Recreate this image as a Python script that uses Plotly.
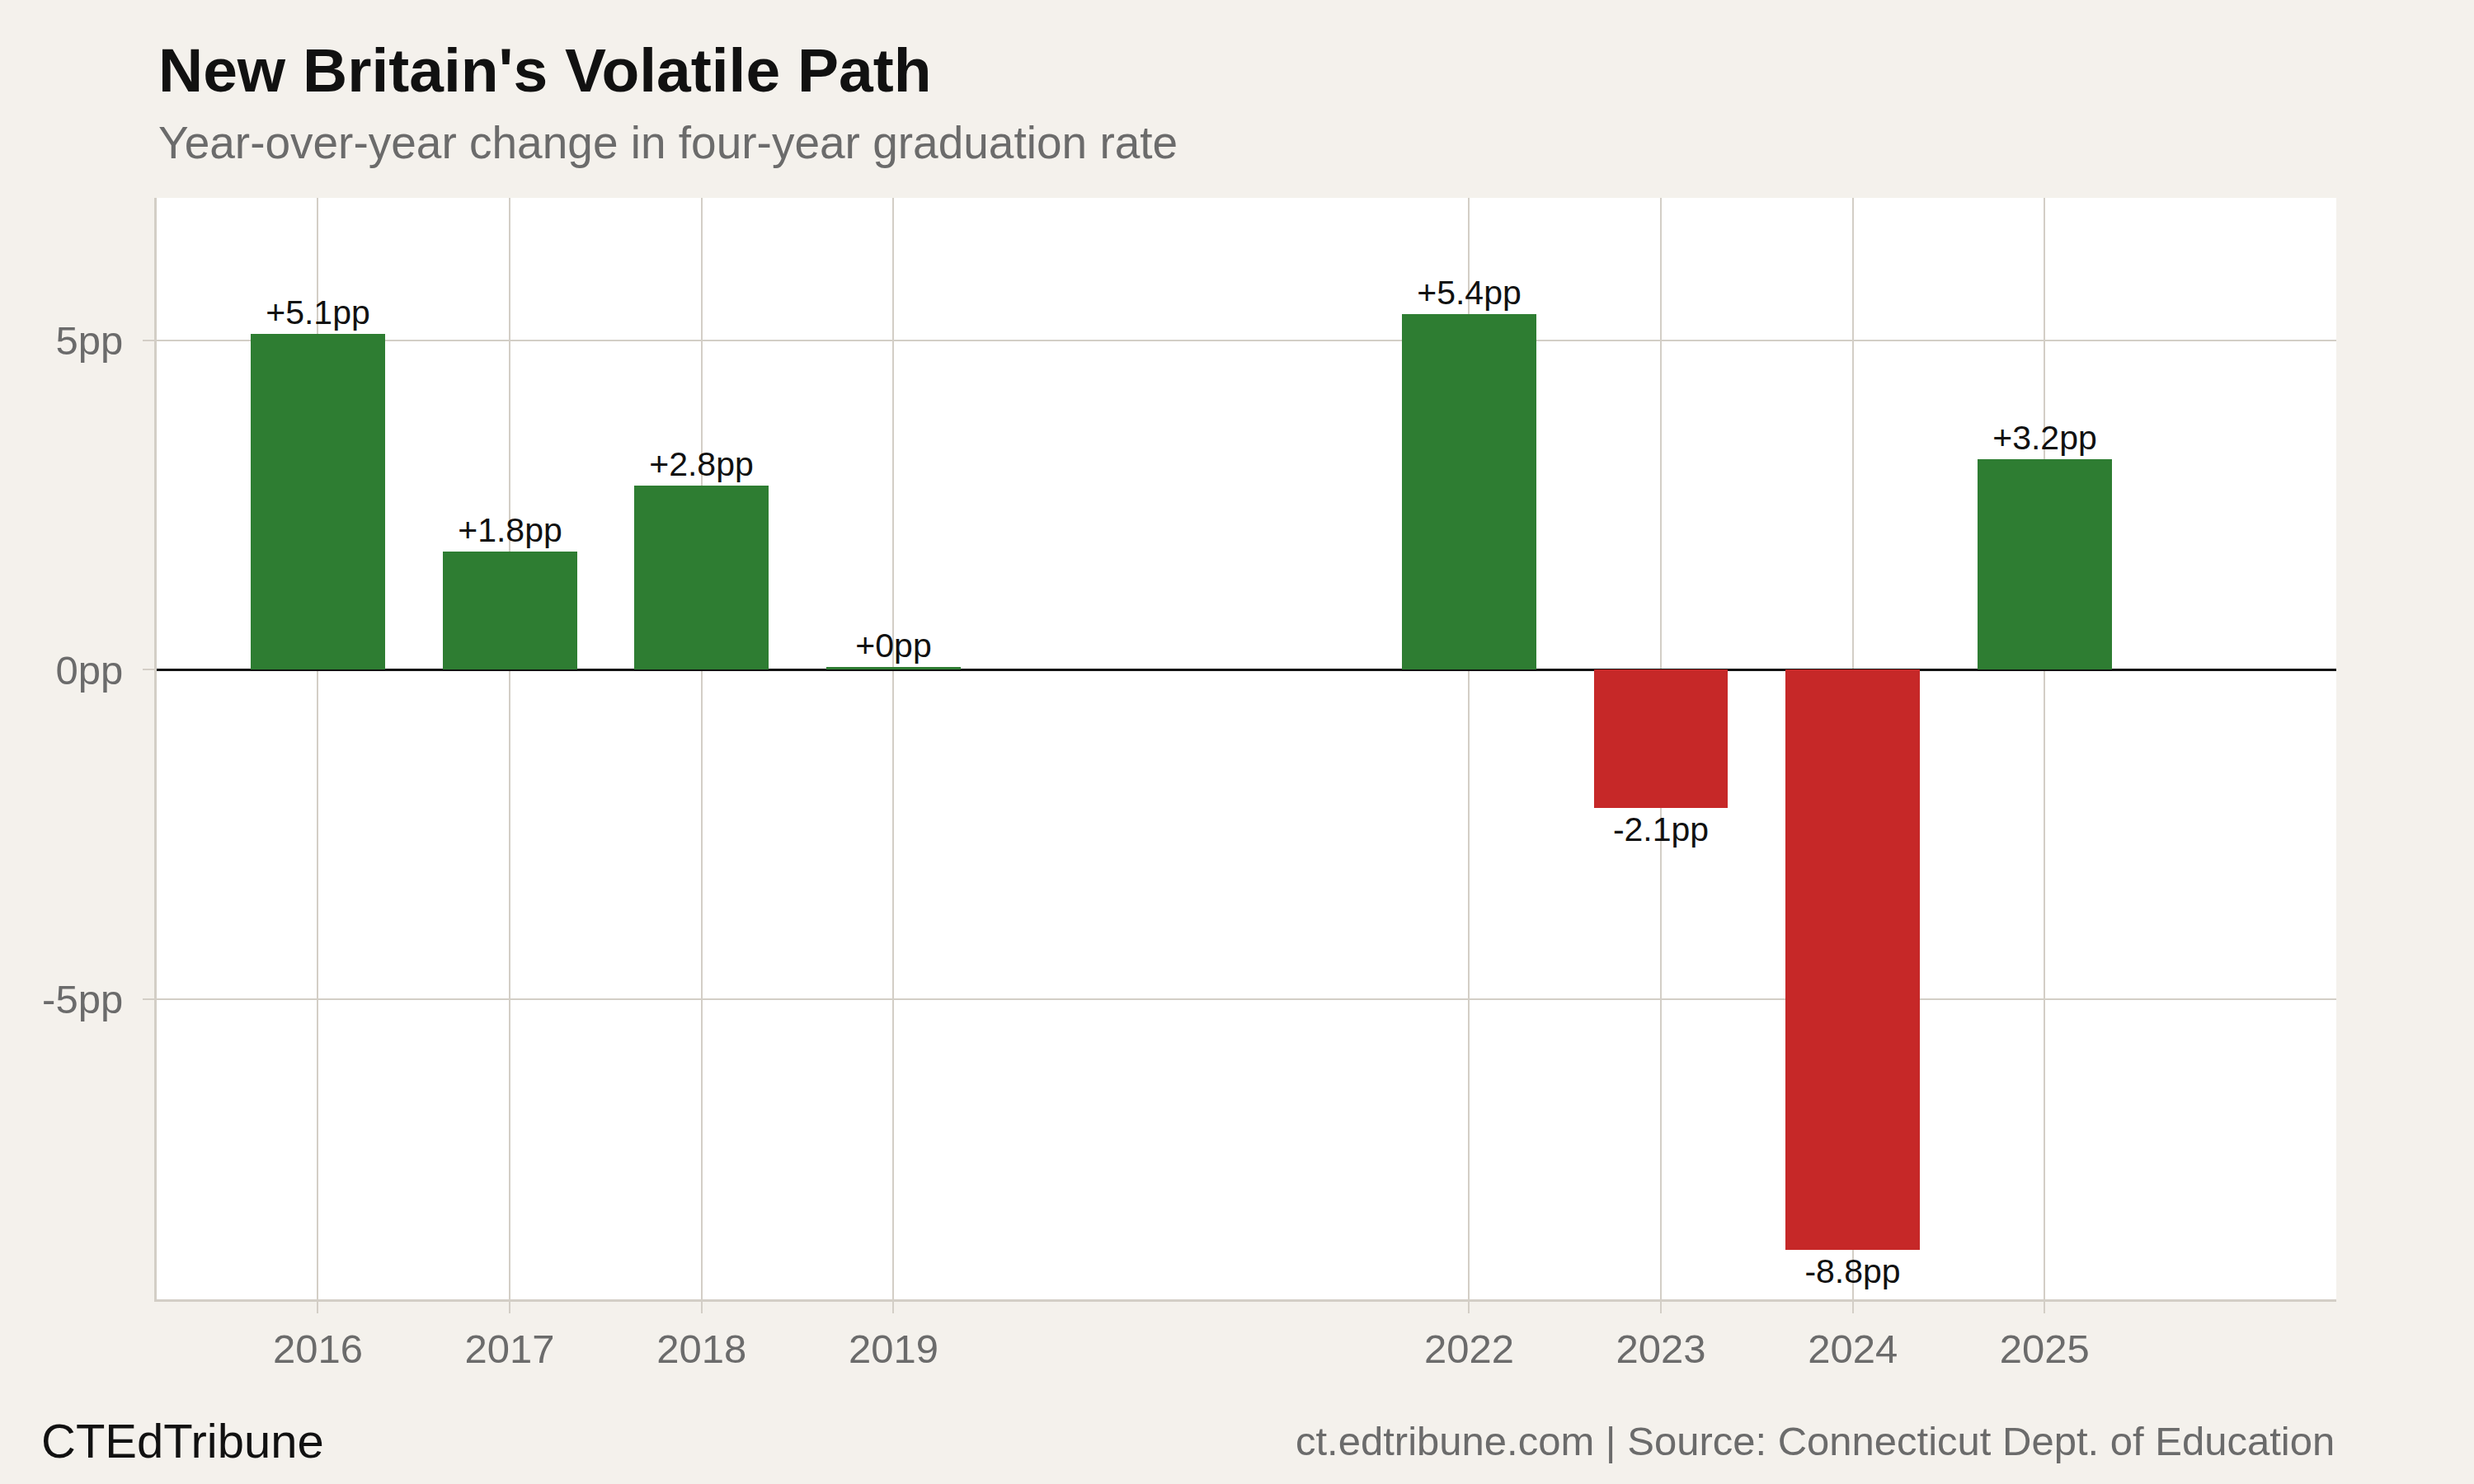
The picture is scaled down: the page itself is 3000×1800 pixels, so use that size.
import plotly.graph_objects as go

years = [2016, 2017, 2018, 2019, 2022, 2023, 2024, 2025]
changes = [5.1, 1.8, 2.8, 0.04, 5.4, -2.1, -8.8, 3.2]
labels = ["+5.1pp", "+1.8pp", "+2.8pp", "+0pp", "+5.4pp", "-2.1pp", "-8.8pp", "+3.2pp"]
y_ticks = [-5, 0, 5]
y_tick_text = ["-5pp", "0pp", "5pp"]

GREEN = "#2e7d32"
RED = "#c62828"
BG = "#f4f1ec"
GRID = "#d3cec6"

W, H = 3000, 1800
L, R, T, B = 190, 167, 240, 224
PH = H - T - B
PW = W - L - R


def py(ypx):
    return (H - B - ypx) / PH


def px(xpx):
    return (xpx - L) / PW


colors = [GREEN if v >= 0 else RED for v in changes]

fig = go.Figure()
fig.add_trace(go.Bar(
    x=years, y=changes, width=0.7,
    marker=dict(color=colors, line=dict(width=0)),
    text=labels, textposition="outside", constraintext="none",
    textfont=dict(family="Liberation Sans, Arial, Helvetica", size=41, color="#111111"),
    cliponaxis=False, hoverinfo="skip",
))

fig.update_layout(
    width=W, height=H,
    margin=dict(l=L, r=R, t=T, b=B, pad=0),
    paper_bgcolor=BG, plot_bgcolor="white",
    showlegend=False,
    font=dict(family="Liberation Sans, Arial, Helvetica"),
    bargap=0,
)
fig.update_xaxes(
    range=[2015.16, 2026.52], tickmode="array", tickvals=years,
    ticktext=[str(y) for y in years],
    showgrid=True, gridcolor=GRID, gridwidth=2,
    showline=True, linecolor=GRID, linewidth=3,
    ticks="outside", ticklen=14, tickcolor=GRID, tickwidth=2,
    ticklabelstandoff=1,
    tickfont=dict(size=49, color="#6b6b6b"), zeroline=False,
)
fig.update_yaxes(
    range=[-9.55, 7.16], tickmode="array", tickvals=y_ticks, ticktext=y_tick_text,
    showgrid=True, gridcolor=GRID, gridwidth=2,
    showline=True, linecolor=GRID, linewidth=3,
    ticks="outside", ticklen=14, tickcolor=GRID, tickwidth=2,
    ticklabelstandoff=14,
    tickfont=dict(size=49, color="#6b6b6b"),
    zeroline=True, zerolinecolor="#111111", zerolinewidth=3,
)

fig.add_annotation(text="<b>New Britain's Volatile Path</b>", xref="paper", yref="paper",
                   x=0, y=py(129), xanchor="left", yanchor="bottom", showarrow=False,
                   font=dict(size=75, color="#111111"))
fig.add_annotation(text="Year-over-year change in four-year graduation rate", xref="paper", yref="paper",
                   x=0, y=py(206), xanchor="left", yanchor="bottom", showarrow=False,
                   font=dict(size=55, color="#6b6b6b"))
fig.add_annotation(text="CTEdTribune", xref="paper", yref="paper",
                   x=px(48), y=py(1782), xanchor="left", yanchor="bottom", showarrow=False,
                   font=dict(size=58, color="#111111"))
fig.add_annotation(text="ct.edtribune.com | Source: Connecticut Dept. of Education", xref="paper", yref="paper",
                   x=1, y=py(1777), xanchor="right", yanchor="bottom", showarrow=False,
                   font=dict(size=49, color="#6b6b6b"))

fig.write_html("out.html")
